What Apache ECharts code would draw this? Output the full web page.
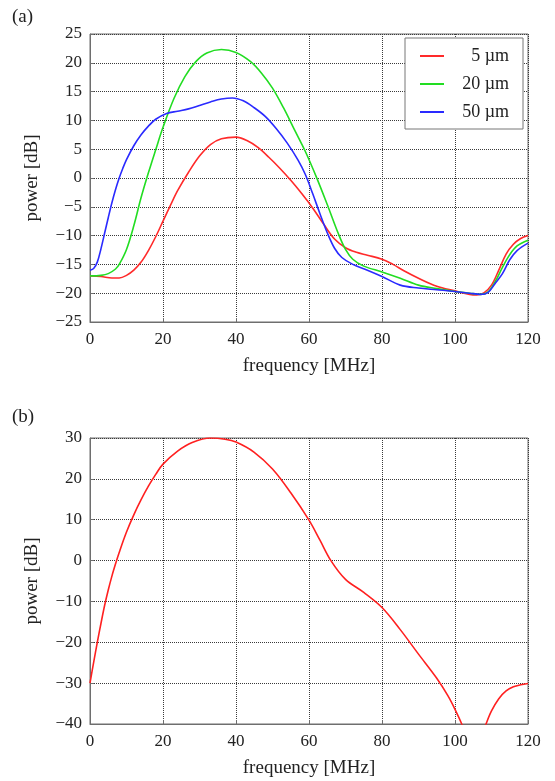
<!DOCTYPE html>
<html>
<head>
<meta charset="utf-8">
<script src="https://cdn.jsdelivr.net/npm/echarts@6/dist/echarts.min.js"></script>
<style>
  html, body { margin: 0; padding: 0; background: #fff; }
  #chart { width: 555px; height: 781px; }
</style>
</head>
<body>
<div id="chart"></div>
<script>
// panel (a): spectra for three diameters
const seriesNames = ['5 \u00b5m', '20 \u00b5m', '50 \u00b5m'];
const freqRed = [0, 3, 6, 8, 10, 12, 14, 16, 18, 20, 22, 24, 27, 30, 33, 36, 40, 43, 46, 49, 52, 55, 58, 61, 64, 67, 70, 73, 76, 80, 83, 86, 90, 95, 100, 104, 106, 108, 110, 112, 114, 116, 118, 120];
const powRed = [-17, -17.1, -17.35, -17.35, -16.9, -16, -14.6, -12.6, -10.2, -7.5, -4.8, -2.2, 1, 3.8, 5.8, 6.8, 7.1, 6.5, 5.3, 3.6, 1.7, -0.4, -2.7, -5.2, -8, -10.6, -12.1, -12.9, -13.4, -14.1, -15, -16.1, -17.4, -18.8, -19.6, -20.2, -20.3, -19.9, -18.6, -16, -13.2, -11.5, -10.5, -10];
const freqGreen = [0, 3, 5, 7, 8, 10, 12, 14, 16, 18, 20, 23, 26, 29, 32, 36, 40, 44, 47, 50, 53, 56, 59, 62, 65, 68, 70, 72, 75, 80, 85, 90, 95, 100, 104, 107, 109, 111, 113, 115, 117, 120];
const powGreen = [-17, -16.9, -16.6, -15.8, -15, -12.4, -8.3, -3.4, 0.9, 4.9, 8.8, 13.8, 17.6, 20.2, 21.7, 22.3, 21.8, 20.2, 18.2, 15.6, 12.2, 8.4, 4.6, 0.2, -4.6, -9.6, -12.4, -14.1, -15.3, -16.3, -17.4, -18.6, -19.2, -19.7, -20, -20.2, -19.8, -18, -15.5, -13.3, -11.8, -10.8];
const freqBlue = [0, 1, 2, 3, 4, 5, 6, 7, 8, 9, 10, 12, 14, 16, 18, 21, 24, 27, 30, 33, 36, 39, 42, 45, 48, 51, 54, 57, 59, 61, 63, 65, 67, 69, 72, 76, 80, 85, 90, 95, 100, 104, 107, 109, 111, 113, 115, 117, 120];
const powBlue = [-16, -15.7, -14.6, -12.3, -9.6, -6.9, -4.3, -2, 0, 1.7, 3.2, 5.6, 7.5, 9, 10.2, 11.2, 11.6, 12, 12.6, 13.2, 13.7, 13.9, 13.4, 12.2, 10.7, 8.6, 6.1, 3.1, 0.6, -2.7, -6.2, -9.5, -12.2, -13.8, -15, -16, -17.1, -18.6, -19.1, -19.4, -19.7, -20, -20.2, -19.9, -18.3, -16.6, -14.2, -12.6, -11.3];

// panel (b): single spectrum (dips below the axis floor between ~102 and ~108 MHz)
const freqB = [0, 1, 2, 3, 4, 5, 6, 7, 8, 10, 12, 14, 16, 18, 20, 24, 28, 33, 37, 40, 45, 50, 55, 60, 63, 66, 70, 75, 80, 85, 90, 95, 98, 100, 102, 104, 106, 107.5, 108.5, 110, 112, 114, 116, 118, 120];
const powB = [-30, -24.9, -20, -15.4, -11, -7.2, -3.8, -0.8, 2, 7, 11.2, 14.9, 18.2, 21.1, 23.6, 26.8, 28.9, 30, 29.7, 29, 26.5, 22.4, 16.6, 9.9, 5, 0, -4.6, -7.8, -11.5, -16.9, -22.9, -28.8, -33, -36.4, -40.3, -45, -46.5, -42.5, -40, -36.8, -33.8, -31.9, -30.9, -30.4, -30.1];

const zip = (xs, ys) => xs.map((x, i) => [x, ys[i]]);
const minus = v => String(v).replace('-', '\u2212');
const serif = 'Liberation Serif';
const frameColor = '#6e6e6e';

function xAxisFor(idx) {
  return {
    type: 'value', gridIndex: idx, min: 0, max: 120, interval: 20,
    name: 'frequency [MHz]', nameLocation: 'middle', nameGap: 35,
    nameTextStyle: { fontFamily: serif, fontSize: 19, color: '#222' },
    axisLine: { show: true, onZero: false, lineStyle: { color: frameColor } },
    axisTick: { inside: true, length: 4, lineStyle: { color: frameColor } },
    axisLabel: { fontFamily: serif, fontSize: 17, color: '#222', margin: 9 },
    splitLine: { show: true, lineStyle: { color: '#3a3a3a', type: 'dotted', width: 1 } }
  };
}
function yAxisFor(idx, min, max, interval) {
  return {
    type: 'value', gridIndex: idx, min: min, max: max, interval: interval,
    name: 'power [dB]', nameLocation: 'middle', nameGap: 48,
    nameTextStyle: { fontFamily: serif, fontSize: 19, color: '#222' },
    axisLine: { show: true, lineStyle: { color: frameColor } },
    axisTick: { inside: true, length: 4, lineStyle: { color: frameColor } },
    axisLabel: { fontFamily: serif, fontSize: 17, color: '#222', margin: 8, formatter: minus },
    splitLine: { show: true, lineStyle: { color: '#3a3a3a', type: 'dotted', width: 1 } }
  };
}
function line(name, data, color, idx) {
  return {
    name: name, type: 'line', xAxisIndex: idx, yAxisIndex: idx,
    data: data, smooth: 0.35, symbol: 'none', clip: true,
    lineStyle: { color: color, width: 1.6 }, itemStyle: { color: color },
    emphasis: { disabled: true }
  };
}

const chart = echarts.init(document.getElementById('chart'), null, { renderer: 'canvas' });
chart.setOption({
  animation: false,
  backgroundColor: '#fff',
  grid: [
    { left: 90, top: 34, width: 438, height: 288, show: true, borderColor: frameColor, borderWidth: 1 },
    { left: 90, top: 438, width: 438, height: 286, show: true, borderColor: frameColor, borderWidth: 1 }
  ],
  graphic: [
    { type: 'text', left: 12, top: 8, style: { text: '(a)', fontFamily: serif, fontSize: 19, fill: '#222' } },
    { type: 'text', left: 12, top: 408, style: { text: '(b)', fontFamily: serif, fontSize: 19, fill: '#222' } }
  ],
  legend: {
    data: seriesNames,
    orient: 'vertical', left: 405, top: 38,
    padding: [9, 14, 8, 14], itemGap: 10, itemWidth: 24, itemHeight: 14,
    borderColor: '#777', borderWidth: 1, backgroundColor: '#fff',
    selectedMode: false,
    itemStyle: { opacity: 0 },
    formatter: n => '{t|' + n + '}',
    textStyle: { fontFamily: serif, fontSize: 18, color: '#222', rich: { t: { width: 60, align: 'right', fontFamily: serif, fontSize: 18 } } }
  },
  xAxis: [xAxisFor(0), xAxisFor(1)],
  yAxis: [yAxisFor(0, -25, 25, 5), yAxisFor(1, -40, 30, 10)],
  series: [
    line(seriesNames[0], zip(freqRed, powRed), '#ff2a2a', 0),
    line(seriesNames[1], zip(freqGreen, powGreen), '#22dd22', 0),
    line(seriesNames[2], zip(freqBlue, powBlue), '#2a2aff', 0),
    line('b', zip(freqB, powB), '#ff2020', 1)
  ]
});
</script>
</body>
</html>
